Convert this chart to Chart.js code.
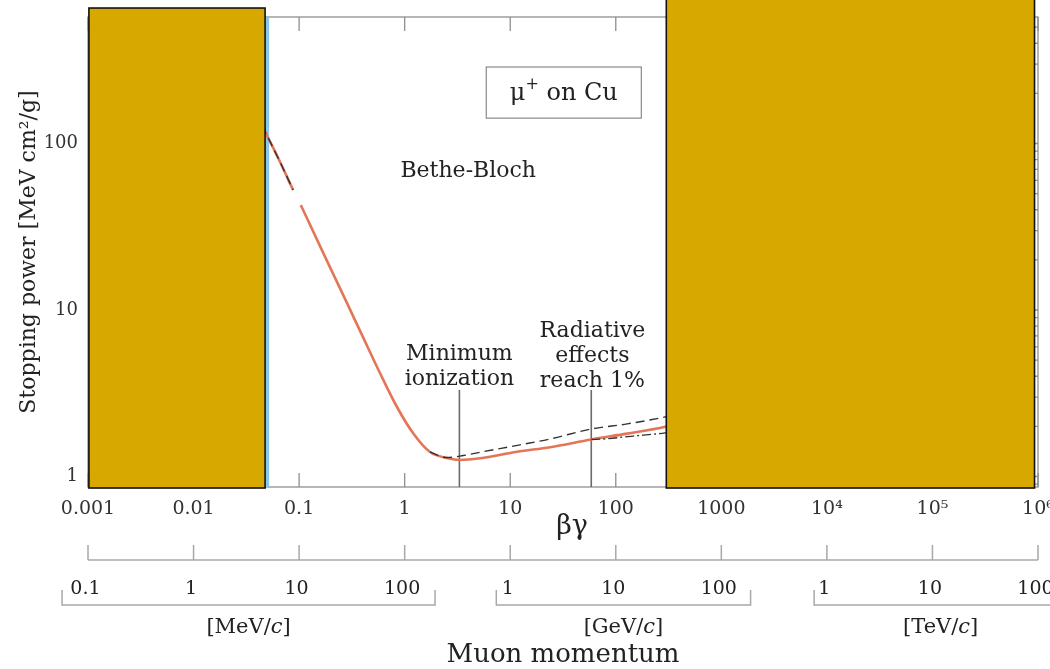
<!DOCTYPE html>
<html>
<head>
<meta charset="utf-8">
<script src="https://cdn.jsdelivr.net/npm/chart.js@4.4.1/dist/chart.umd.min.js"></script>
<style>
  html, body { margin: 0; padding: 0; background: #fff; }
  canvas { display: block; }
</style>
</head>
<body>
<canvas id="stoppingChart" width="1050" height="669"></canvas>
<script>
// axes
const xTicks = [0.001, 0.01, 0.1, 1, 10, 100, 1000, 1e4, 1e5, 1e6];
const xLabels = ['0.001', '0.01', '0.1', '1', '10', '100', '1000', '10⁴', '10⁵', '10⁶'];
const yTicks = [1, 10, 100];
const yLabels = ['1', '10', '100'];

// stopping power curves (x = beta*gamma, y = MeV cm2/g)
const totalX = [0.0446, 0.066, 0.0877, 0.095, 0.1037, 0.1683, 0.2844, 0.403, 0.5834, 0.8458, 1.199, 1.738, 2.518, 3.343, 5.17, 11.6, 23.9, 58.6, 128, 294, 320];
const totalY = [128, 77.4, 52.6, null, 42.7, 22.2, 10.99, 6.875, 4.183, 2.615, 1.825, 1.403, 1.291, 1.256, 1.286, 1.41, 1.50, 1.67, 1.81, 1.99, 2.02];
const noDeltaX = [0.0446, 0.066, 0.0877, 0.095, 1.738, 2.53, 3.59, 5.55, 12.4, 23.9, 58.6, 128, 294, 320];
const noDeltaY = [128, 77.4, 52.6, null, 1.403, 1.30, 1.337, 1.41, 1.55, 1.68, 1.93, 2.07, 2.28, 2.31];
const restrictedX = [58.6, 76.2, 146.6, 294, 320];
const restrictedY = [1.67, 1.68, 1.75, 1.83, 1.85];

// marker lines: minimum ionization, radiative effects 1%, Bethe-Bloch boundary
const markerX = [3.3, 58.6];
const markerTop = 3.31;
const boundaryX = 0.05;

// muon momentum (m_mu = 105.658 MeV/c)
const muonMass = 105.658;
const momUnits = ['MeV', 'GeV', 'TeV'];
const momScale = [1, 1e3, 1e6];
const momTicks = [[0.1, 1, 10, 100], [1, 10, 100], [1, 10, 100]];
const momLabels = [['0.1', '1', '10', '100'], ['1', '10', '100'], ['1', '10', '100']];
const momRange = [[0.06, 205], [0.78, 200], [0.8, 200]];

const yMin = 0.865, yMax = 575;

function pts(xs, ys) {
  return xs.map((v, i) => ({ x: v, y: ys[i] }));
}

const serif = '"DejaVu Serif", serif';

const frame = {
  id: 'frame',
  beforeDatasetsDraw(chart) {
    const { ctx, chartArea: a, scales: { x, y } } = chart;
    ctx.save();
    ctx.strokeStyle = '#8f8f8f';
    ctx.lineWidth = 1.3;
    ctx.strokeRect(a.left, a.top, a.right - a.left, a.bottom - a.top);
    ctx.beginPath();
    xTicks.forEach(v => {
      const px = x.getPixelForValue(v);
      ctx.moveTo(px, a.bottom); ctx.lineTo(px, a.bottom - 14);
      ctx.moveTo(px, a.top); ctx.lineTo(px, a.top + 14);
    });
    [0.1, 1, 10, 100].forEach(d => {
      for (let m = 1; m < 10; m++) {
        const v = d * m;
        if (v < y.min || v > y.max) continue;
        const py = y.getPixelForValue(v);
        const len = m === 1 ? 14 : 7;
        ctx.moveTo(a.left, py); ctx.lineTo(a.left + len, py);
        ctx.moveTo(a.right, py); ctx.lineTo(a.right - len, py);
      }
    });
    ctx.stroke();
    ctx.restore();
  }
};

// gold boxes over parts of the figure, in data units
const boxes = [
  { x0: 0.00102, x1: 0.0476, y0: 0.853, y1: 651 },
  { x0: 301, x1: 9.27e5, y0: 0.853, y1: 740 }
];

const notes = [
  { lines: ['Bethe-Bloch'], x: 4.0, y: 68.4 },
  { lines: ['Minimum', 'ionization'], x: 3.3, y: 5.45 },
  { lines: ['Radiative', 'effects', 'reach 1%'], x: 60, y: 7.45 }
];

const extras = {
  id: 'extras',
  afterDraw(chart) {
    const { ctx, chartArea: a, scales: { x, y } } = chart;
    ctx.save();
    ctx.fillStyle = '#222';
    ctx.textAlign = 'center';
    ctx.textBaseline = 'middle';

    // annotations
    ctx.font = '22px ' + serif;
    notes.forEach(n => {
      const px = x.getPixelForValue(n.x);
      const py = y.getPixelForValue(n.y);
      n.lines.forEach((t, i) => ctx.fillText(t, px, py + i * 25));
    });

    // mu+ on Cu box
    const bx0 = x.getPixelForValue(5.93), bx1 = x.getPixelForValue(174.6);
    const by0 = y.getPixelForValue(288), by1 = y.getPixelForValue(142);
    ctx.strokeStyle = '#8a8a8a';
    ctx.lineWidth = 1.2;
    ctx.strokeRect(bx0, by0, bx1 - bx0, by1 - by0);
    const cx = (bx0 + bx1) / 2, cy = (by0 + by1) / 2 + 1;
    ctx.font = '24px ' + serif;
    const w1 = ctx.measureText('μ').width;
    const w3 = ctx.measureText(' on Cu').width;
    ctx.font = '16px ' + serif;
    const w2 = ctx.measureText('+').width;
    let sx = cx - (w1 + w2 + w3) / 2;
    ctx.textAlign = 'left';
    ctx.font = '24px ' + serif;
    ctx.fillText('μ', sx, cy);
    ctx.font = '16px ' + serif;
    ctx.fillText('+', sx + w1, cy - 9);
    ctx.font = '24px ' + serif;
    ctx.fillText(' on Cu', sx + w1 + w2, cy);

    // gold boxes
    ctx.fillStyle = '#d6a800';
    ctx.strokeStyle = '#111';
    ctx.lineWidth = 1.6;
    boxes.forEach(b => {
      const l = x.getPixelForValue(b.x0), r = x.getPixelForValue(b.x1);
      const t = y.getPixelForValue(b.y1), btm = y.getPixelForValue(b.y0);
      ctx.fillRect(l, t, r - l, btm - t);
      ctx.strokeRect(l, t, r - l, btm - t);
    });

    // beta*gamma label
    ctx.fillStyle = '#222';
    ctx.textAlign = 'center';
    ctx.font = '27px ' + serif;
    ctx.fillText('βγ', (a.left + a.right) / 2 + 9, a.bottom + 40);

    // second axis with decade ticks
    const axY = a.bottom + 73;
    ctx.strokeStyle = '#a8a8a8';
    ctx.lineWidth = 1.5;
    ctx.beginPath();
    ctx.moveTo(a.left, axY); ctx.lineTo(a.right, axY);
    xTicks.forEach(v => {
      const px = x.getPixelForValue(v);
      ctx.moveTo(px, axY); ctx.lineTo(px, axY - 15);
    });
    ctx.stroke();

    // momentum brackets
    const brY = a.bottom + 118;
    momUnits.forEach((u, k) => {
      const l = x.getPixelForValue(momRange[k][0] * momScale[k] / muonMass);
      const r = x.getPixelForValue(momRange[k][1] * momScale[k] / muonMass);
      ctx.beginPath();
      ctx.moveTo(l, brY - 15); ctx.lineTo(l, brY); ctx.lineTo(r, brY); ctx.lineTo(r, brY - 15);
      ctx.stroke();
      ctx.font = '19px ' + serif;
      ctx.textAlign = 'center';
      momTicks[k].forEach((p, i) => {
        const px = x.getPixelForValue(p * momScale[k] / muonMass);
        ctx.fillText(momLabels[k][i], px, brY - 16);
      });
      // unit label with italic c
      const mid = (l + r) / 2;
      const pre = '[' + u + '/', post = ']';
      ctx.font = '21px ' + serif;
      const wa = ctx.measureText(pre).width, wc2 = ctx.measureText(post).width;
      ctx.font = 'italic 21px ' + serif;
      const wb = ctx.measureText('c').width;
      let ux = mid - (wa + wb + wc2) / 2;
      ctx.textAlign = 'left';
      ctx.font = '21px ' + serif;
      ctx.fillText(pre, ux, brY + 23);
      ctx.font = 'italic 21px ' + serif;
      ctx.fillText('c', ux + wa, brY + 23);
      ctx.font = '21px ' + serif;
      ctx.fillText(post, ux + wa + wb, brY + 23);
    });
    ctx.restore();
  }
};

const markerSets = markerX.map(v => ({
  data: [{ x: v, y: yMin }, { x: v, y: markerTop }],
  borderColor: '#6a6a6a',
  borderWidth: 1.6,
  order: 5
}));

new Chart(document.getElementById('stoppingChart'), {
  type: 'scatter',
  data: {
    datasets: [
      {
        label: 'Without density effect',
        data: pts(noDeltaX, noDeltaY),
        borderColor: '#333',
        borderWidth: 1.4,
        borderDash: [9, 5],
        cubicInterpolationMode: 'monotone',
        order: 1
      },
      {
        label: 'Restricted',
        data: pts(restrictedX, restrictedY),
        borderColor: '#333',
        borderWidth: 1.3,
        borderDash: [9, 3, 2, 3],
        cubicInterpolationMode: 'monotone',
        order: 2
      },
      {
        label: 'Stopping power',
        data: pts(totalX, totalY),
        borderColor: 'rgb(228,118,88)',
        borderWidth: 2.6,
        cubicInterpolationMode: 'monotone',
        order: 3
      },
      {
        label: 'Boundary',
        data: [{ x: boundaryX, y: yMin }, { x: boundaryX, y: yMax }],
        borderColor: 'rgb(135,200,232)',
        borderWidth: 3.5,
        order: 6
      },
      ...markerSets
    ]
  },
  options: {
    responsive: false,
    animation: false,
    showLine: true,
    spanGaps: false,
    elements: { point: { radius: 0, hoverRadius: 0 } },
    layout: { padding: { left: 0, right: 12, top: 17, bottom: 0 } },
    plugins: {
      legend: { display: false },
      tooltip: { enabled: false }
    },
    scales: {
      x: {
        type: 'logarithmic',
        min: 0.001,
        max: 1e6,
        bounds: 'data',
        grid: { display: false },
        border: { display: false },
        afterBuildTicks: s => { s.ticks = xTicks.map(v => ({ value: v })); },
        afterFit: s => { s.height = 182; s.paddingLeft = 0; s.paddingRight = 0; },
        ticks: {
          autoSkip: false,
          maxRotation: 0,
          padding: 3,
          color: '#333',
          font: { family: serif, size: 19 },
          callback: (v, i) => xLabels[i]
        },
        title: {
          display: true,
          text: 'Muon momentum',
          color: '#222',
          font: { family: serif, size: 26, lineHeight: 1.0 },
          padding: { top: 0, bottom: 1 }
        }
      },
      y: {
        type: 'logarithmic',
        min: yMin,
        max: yMax,
        bounds: 'data',
        grid: { display: false },
        border: { display: false },
        afterBuildTicks: s => { s.ticks = yTicks.map(v => ({ value: v })); },
        afterFit: s => { s.width = 88; s.paddingTop = 0; s.paddingBottom = 0; },
        ticks: {
          autoSkip: false,
          padding: 2,
          color: '#333',
          font: { family: serif, size: 18 },
          callback: (v, i) => yLabels[i]
        },
        title: {
          display: true,
          text: 'Stopping power [MeV cm²/g]',
          color: '#222',
          font: { family: serif, size: 22 },
          padding: { top: 16, bottom: 0 }
        }
      }
    }
  },
  plugins: [frame, extras]
});
</script>
</body>
</html>
